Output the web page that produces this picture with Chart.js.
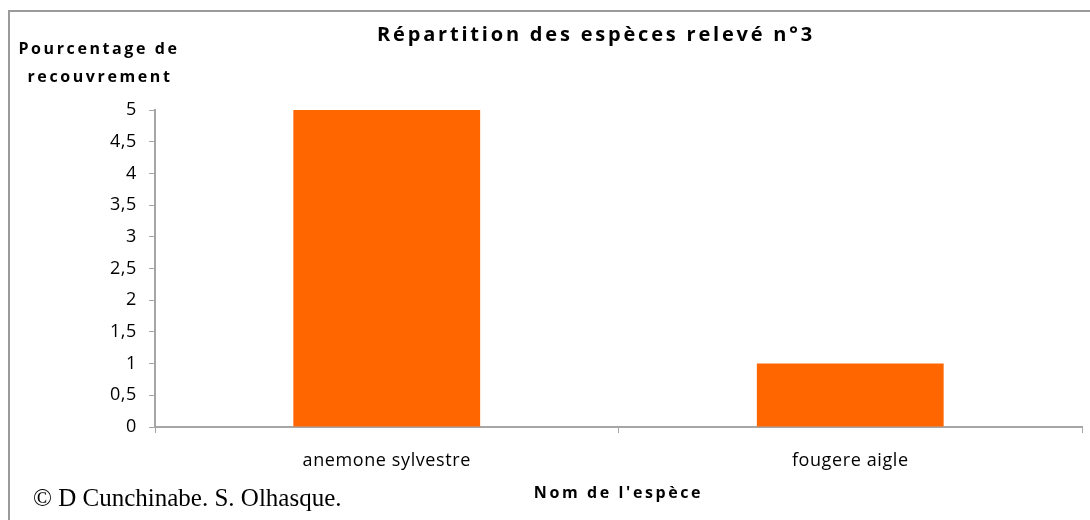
<!DOCTYPE html>
<html>
<head>
<meta charset="utf-8">
<script src="https://cdn.jsdelivr.net/npm/chart.js@4/dist/chart.umd.min.js"></script>
<style>
  html, body { margin: 0; padding: 0; background: #fff; }
  #wrap { width: 1090px; height: 520px; }
</style>
</head>
<body>
<div id="wrap"><canvas id="chart" width="1090" height="520"></canvas></div>
<script>
// données du relevé n°3
const especes = ["anemone sylvestre", "fougere aigle"];
const recouvrement = [5, 1];
const titre = "Répartition des espèces relevé n°3";
const titreY = ["Pourcentage de", "recouvrement"];
const titreX = "Nom de l'espèce";
const credit = "© D Cunchinabe. S. Olhasque.";

const police = "'Open Sans', 'Noto Sans', sans-serif";
const gris = "#A6A6A6";

// textes dessinés à la main (titre, titres des axes, crédit) + cadre
const textes = {
  id: "textes",
  beforeDraw(chart) {
    const ctx = chart.ctx;
    ctx.save();
    ctx.strokeStyle = "#9a9a9a";
    ctx.lineWidth = 2;
    ctx.strokeRect(9, 11, 1200, 700);
    ctx.restore();
    // un peu d'espacement pour les étiquettes des axes, comme l'original
    ctx.letterSpacing = "0.6px";
  },
  afterDraw(chart) {
    const ctx = chart.ctx;
    const area = chart.chartArea;
    ctx.save();
    ctx.fillStyle = "#000";
    ctx.textAlign = "center";
    ctx.textBaseline = "middle";

    ctx.font = "bold 20px " + police;
    ctx.letterSpacing = "2.8px";
    ctx.fillText(titre, 596, 35);

    ctx.font = "bold 16px " + police;
    ctx.letterSpacing = "2.6px";
    ctx.fillText(titreY[0], 99, 49);
    ctx.fillText(titreY[1], 100, 77);

    ctx.font = "bold 16px " + police;
    ctx.letterSpacing = "2.6px";
    ctx.fillText(titreX, (area.left + area.right) / 2, 493);

    ctx.letterSpacing = "0px";
    ctx.textAlign = "left";
    ctx.font = "25px 'Liberation Serif', serif";
    ctx.fillText(credit, 33, 499);
    ctx.restore();
  }
};

new Chart(document.getElementById("chart"), {
  type: "bar",
  data: {
    labels: especes,
    datasets: [{
      data: recouvrement,
      backgroundColor: "#FF6600",
      categoryPercentage: 1,
      barPercentage: 0.403
    }]
  },
  options: {
    responsive: false,
    animation: false,
    layout: { padding: { top: 110, right: 8, bottom: 0, left: 0 } },
    plugins: {
      legend: { display: false },
      tooltip: { enabled: false }
    },
    scales: {
      x: {
        afterFit: (s) => { s.height = 93; },
        border: { color: gris, width: 2 },
        grid: { drawOnChartArea: false, color: gris, tickLength: 6, offset: true },
        ticks: { color: "#000", padding: 17, font: { family: police, size: 18 } }
      },
      y: {
        min: 0,
        max: 5,
        afterFit: (s) => { s.width = 155; },
        border: { color: gris, width: 2 },
        grid: { drawOnChartArea: false, color: gris, tickLength: 6 },
        ticks: {
          stepSize: 0.5,
          color: "#000",
          padding: 12,
          font: { family: police, size: 18 },
          callback: (v) => String(v).replace(".", ",")
        }
      }
    }
  },
  plugins: [textes]
});
</script>
</body>
</html>
